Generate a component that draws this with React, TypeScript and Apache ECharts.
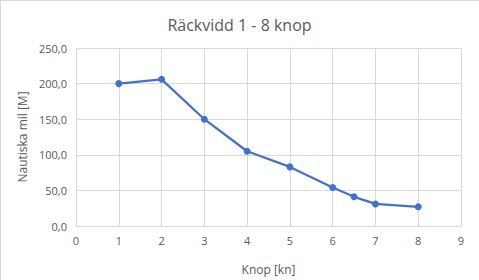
import React, { useEffect, useRef } from "react";
import * as echarts from "echarts";

const title = "Räckvidd 1 - 8 knop";
const xName = "Knop [kn]";
const yName = "Nautiska mil [M]";
const knots = [1, 2, 3, 4, 5, 6, 6.5, 7, 8];
const range = [200, 206, 150, 105, 83, 54, 41, 31, 27];

export default function App() {
  const ref = useRef<HTMLDivElement>(null);
  useEffect(() => {
    if (!ref.current) return;
    const chart = echarts.init(ref.current, undefined, { renderer: "svg" });
    const font = "Open Sans";
    const grey = "#595959";
    chart.setOption({
      animation: false,
      backgroundColor: "#ffffff",
      graphic: [
        { type: "line", shape: { x1: 0, y1: 0.5, x2: 479, y2: 0.5 }, style: { stroke: "#d9d9d9", lineWidth: 1 } },
        { type: "line", shape: { x1: 0.5, y1: 0, x2: 0.5, y2: 280 }, style: { stroke: "#d9d9d9", lineWidth: 1 } },
      ],
      title: {
        text: title,
        left: "center",
        top: 12,
        textStyle: { fontFamily: font, fontSize: 16, fontWeight: "normal", color: grey },
      },
      grid: { left: 76, right: 18, top: 48, bottom: 52, containLabel: false },
      xAxis: {
        type: "value",
        min: 0,
        max: 9,
        interval: 1,
        name: xName,
        nameLocation: "middle",
        nameGap: 37,
        nameTextStyle: { fontFamily: font, fontSize: 12, color: grey },
        axisLine: { show: true, lineStyle: { color: "#d9d9d9" } },
        axisTick: { show: false },
        splitLine: { show: true, lineStyle: { color: "#d9d9d9" } },
        axisLabel: { fontFamily: font, fontSize: 11, color: grey, margin: 9 },
      },
      yAxis: {
        type: "value",
        min: 0,
        max: 250,
        interval: 50,
        name: yName,
        nameLocation: "middle",
        nameGap: 48,
        nameTextStyle: { fontFamily: font, fontSize: 12, color: grey },
        axisLine: { show: false },
        axisTick: { show: false },
        splitLine: { show: true, lineStyle: { color: "#d9d9d9" } },
        axisLabel: {
          fontFamily: font,
          fontSize: 11,
          color: grey,
          margin: 9,
          formatter: (v: number) => v.toFixed(1).replace(".", ","),
        },
      },
      series: [
        {
          type: "line",
          data: knots.map((k, i) => [k, range[i]]),
          symbol: "circle",
          symbolSize: 7,
          lineStyle: { color: "#4472C4", width: 2.25 },
          itemStyle: { color: "#4472C4" },
        },
      ],
    });
    return () => chart.dispose();
  }, []);
  return (
    <div
      ref={ref}
      style={{ position: "absolute", left: 0, top: 0, width: 479, height: 280 }}
    />
  );
}
